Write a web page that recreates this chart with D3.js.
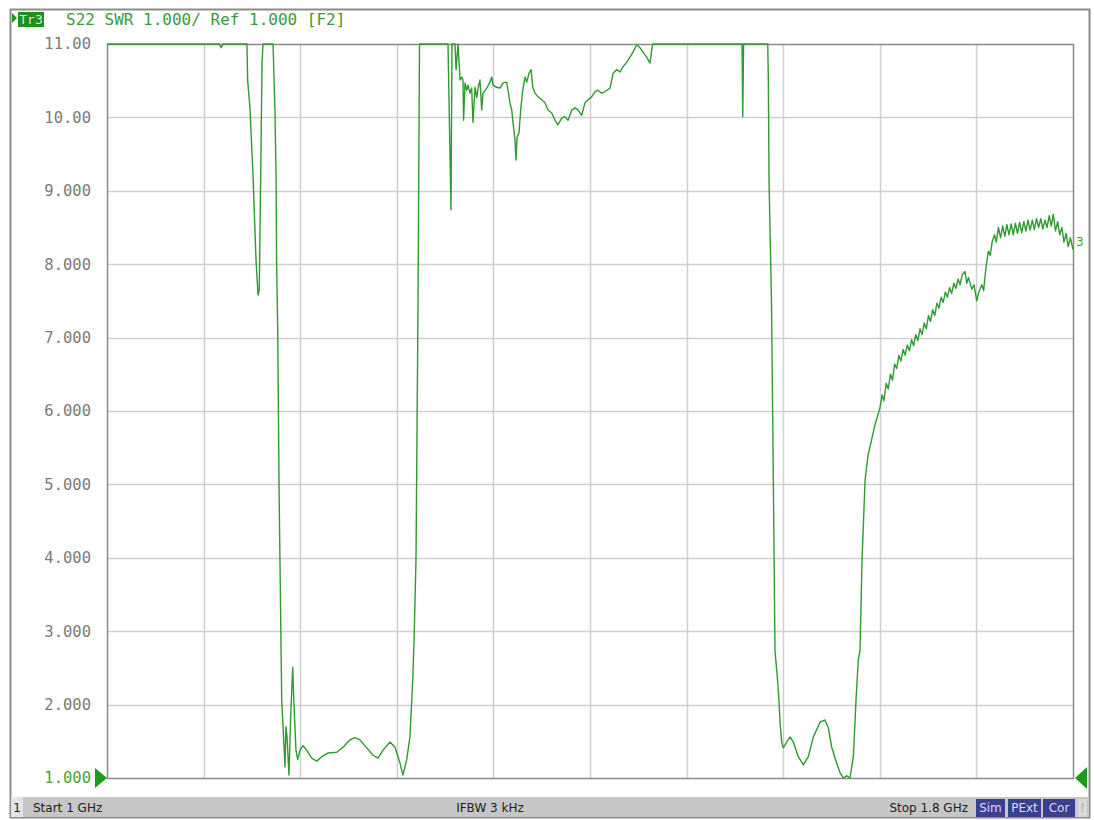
<!doctype html>
<html lang="en">
<head>
<meta charset="utf-8">
<title>S22 SWR</title>
<script src="https://d3js.org/d3.v7.min.js"></script>
<style>
  body { margin: 0; background: #fff; }
  svg { display: block; }
</style>
</head>
<body>
<div id="chart"></div>
<script>
// trace 3, S22 SWR, frequency in MHz
var freq = [
  1000, 1093, 1094.5, 1096, 1115.9, 1116.5, 1118.4, 1120.9, 1123.4, 1125.1, 1126.1, 1127.5, 1128.4, 1129.2,
  1137.5, 1139.1, 1140.0, 1140.5, 1141.4, 1142.5, 1144.7, 1145.8, 1147.4, 1148.2, 1149.1, 1150.7, 1152.1,
  1153.8, 1154.9, 1156.5, 1157.9, 1159.8, 1162.3, 1165.4, 1169.5, 1173.7, 1177.8, 1183.0, 1190.2, 1195.5,
  1201.2, 1205.4, 1209.5, 1215.1, 1220.3, 1224.4, 1228.6, 1234.4, 1238.5, 1242.7, 1245.1, 1248.2, 1250.9,
  1253.2, 1254.3, 1255.9, 1257.6, 1258.8,
  1281.6, 1282.4, 1284.9, 1285.7, 1288.2, 1289.1, 1290.7, 1292.4,
  1293.8, 1294.8, 1295.3, 1296.5, 1297.9, 1299.0, 1300.6, 1302.0, 1303.1, 1304.8, 1306.2, 1307.3, 1308.9,
  1310.3, 1311.4, 1314.5, 1317.2, 1318.6, 1319.7, 1322.7, 1325.5, 1328.0, 1331.0, 1332.1, 1333.8, 1335.2,
  1336.3, 1337.9, 1338.7, 1339.6, 1341.2, 1342.6, 1344.3, 1346.2, 1347.6, 1349.5, 1351.2, 1352.6, 1354.5,
  1357.0, 1360.0, 1362.7, 1365.2, 1368.3, 1371.0, 1373.5, 1376.6, 1379.3, 1381.8, 1384.9, 1387.6, 1390.1,
  1393.1, 1395.9, 1398.4, 1401.4, 1404.2, 1406.6, 1409.7, 1412.4, 1416.6, 1419.1, 1422.1, 1424.9, 1427.3,
  1430.4, 1433.1, 1435.6, 1438.7, 1441.4, 1443.9, 1446.9, 1449.7, 1451.1, 1451.9,
  1525.1, 1525.9, 1526.5, 1527.2, 1547.2, 1547.7, 1548.3, 1549.1, 1550.3, 1552.0, 1553.2, 1555.1, 1556.5,
  1557.4, 1558.8, 1560.1, 1562.9, 1565.7, 1568.4, 1572.5, 1576.7, 1580.8, 1585.0, 1590.5, 1594.6, 1597.4,
  1600.2, 1604.3, 1607.1, 1609.8, 1612.6, 1615.3, 1618.1, 1620.3, 1622.2, 1623.6, 1625.3, 1627.8, 1630.3,
  1636.0, 1640.2, 1642.0, 1643.5, 1645.3, 1647.0, 1648.8, 1650.5, 1652.3, 1654.0, 1655.8, 1657.5, 1659.3,
  1661.0, 1662.8, 1664.5, 1666.3, 1668.0, 1669.8, 1671.5, 1673.3, 1675.0, 1676.8, 1678.5, 1680.3, 1682.0,
  1683.8, 1685.5, 1687.3, 1689.0, 1690.8, 1692.5, 1694.3, 1696.0, 1697.8, 1699.5, 1701.3, 1703.0, 1704.8,
  1706.5, 1708.3, 1710.6, 1712.0, 1713.4, 1716.2, 1718.0, 1720.3, 1722.0, 1724.5, 1726.0, 1727.9, 1729.9,
  1731.5, 1733.0, 1735.0, 1736.5, 1738.2, 1740.0, 1741.8, 1743.5, 1745.2, 1747.0, 1748.8, 1750.5, 1752.3,
  1754.0, 1755.8, 1757.5, 1759.3, 1761.0, 1762.8, 1764.5, 1766.3, 1768.0, 1769.8, 1771.5, 1773.3, 1775.0,
  1776.8, 1778.5, 1780.3, 1782.0, 1783.7, 1785.5, 1787.3, 1789.0, 1790.8, 1792.5, 1794.3, 1796.0, 1797.8,
  1800.0
];
var swr = [
  11.5, 11.5, 10.95, 11.5, 11.5, 10.5, 10.13, 9.22, 8.06, 7.58, 7.65, 9.5, 10.74, 11.5,
  11.5, 10.1, 9.24, 7.96, 7.1, 4.92, 2.06, 1.70, 1.15, 1.70, 1.56, 1.04, 1.83,
  2.51, 1.97, 1.38, 1.25, 1.38, 1.44, 1.38, 1.27, 1.23, 1.29, 1.34, 1.35, 1.42,
  1.52, 1.55, 1.52, 1.41, 1.31, 1.27, 1.38, 1.49, 1.42, 1.20, 1.04, 1.25, 1.56,
  2.34, 2.88, 3.97, 7.51, 11.5,
  11.5, 11.5, 8.74, 11.5, 11.5, 10.65, 11.5, 10.51,
  10.55, 10.51, 9.96, 10.47, 10.37, 10.44, 10.33, 10.40, 9.93, 10.41, 10.27, 10.40, 10.51,
  10.10, 10.33, 10.40, 10.48, 10.55, 10.44, 10.41, 10.40, 10.47, 10.48, 10.37, 10.19, 10.10,
  9.92, 9.69, 9.42, 9.73, 9.79, 10.10, 10.37, 10.55, 10.48, 10.60, 10.65, 10.41, 10.33,
  10.28, 10.24, 10.20, 10.10, 10.06, 9.96, 9.90, 9.99, 10.01, 9.96, 10.10, 10.13, 10.10,
  10.03, 10.20, 10.24, 10.28, 10.35, 10.37, 10.33, 10.35, 10.40, 10.60, 10.65, 10.62, 10.69,
  10.75, 10.82, 10.89, 10.99, 10.95, 10.89, 10.82, 10.74, 10.92, 11.5,
  11.5, 11.5, 10.01, 11.5, 11.5, 10.51, 9.11, 8.47, 7.51, 4.79, 2.74, 2.38, 2.06,
  1.75, 1.48, 1.41, 1.49, 1.56, 1.49, 1.29, 1.18, 1.29, 1.56, 1.76, 1.79, 1.68,
  1.42, 1.20, 1.07, 1.00, 1.03, 1.00, 1.29, 2.06, 2.61, 2.74, 3.97, 5.06, 5.40,
  5.81, 6.05, 6.22, 6.14, 6.38, 6.30, 6.50, 6.42, 6.64, 6.58, 6.76, 6.68, 6.84,
  6.76, 6.90, 6.82, 6.97, 6.89, 7.04, 6.96, 7.12, 7.04, 7.20, 7.12, 7.30, 7.22,
  7.38, 7.30, 7.47, 7.40, 7.55, 7.48, 7.62, 7.55, 7.68, 7.60, 7.74, 7.67, 7.80,
  7.72, 7.86, 7.90, 7.74, 7.82, 7.66, 7.72, 7.50, 7.62, 7.72, 7.64, 7.95, 8.18,
  8.12, 8.30, 8.40, 8.30, 8.50, 8.36, 8.52, 8.38, 8.54, 8.40, 8.55, 8.40, 8.56,
  8.42, 8.57, 8.43, 8.58, 8.45, 8.60, 8.46, 8.60, 8.47, 8.62, 8.50, 8.62, 8.48,
  8.60, 8.50, 8.66, 8.52, 8.68, 8.45, 8.58, 8.40, 8.50, 8.30, 8.42, 8.24, 8.36,
  8.20
];

var yTicks = [11, 10, 9, 8, 7, 6, 5, 4, 3, 2, 1];
var yTickLabels = ["11.00", "10.00", "9.000", "8.000", "7.000", "6.000", "5.000", "4.000", "3.000", "2.000", "1.000"];
var xGrid = [1000, 1080, 1160, 1240, 1320, 1400, 1480, 1560, 1640, 1720, 1800];
var headerText = "S22 SWR 1.000/ Ref 1.000 [F2]";
var statusLeft = "Start 1 GHz";
var statusMid = "IFBW 3 kHz";
var statusRight = "Stop 1.8 GHz";
var statusFlags = ["Sim", "PExt", "Cor"];

var W = 1094, H = 820;
var plot = { left: 107, right: 1073, top: 44, bottom: 778 };

var x = d3.scaleLinear().domain([1000, 1800]).range([plot.left, plot.right]);
var y = d3.scaleLinear().domain([1, 11]).range([plot.bottom, plot.top]).clamp(true);

var svg = d3.select("#chart").append("svg")
  .attr("width", W).attr("height", H);

// outer window frame
svg.append("rect")
  .attr("x", 10.5).attr("y", 9.5).attr("width", 1079).attr("height", 808)
  .attr("fill", "#fff").attr("stroke", "#8c8c8c").attr("stroke-width", 2);

// grid
var grid = svg.append("g");
grid.selectAll("line.v").data(xGrid.slice(1, -1)).enter().append("line")
  .attr("x1", function (d) { return Math.round(x(d)) + 0.5; })
  .attr("x2", function (d) { return Math.round(x(d)) + 0.5; })
  .attr("y1", plot.top).attr("y2", plot.bottom)
  .attr("stroke", "#cfcfcf").attr("stroke-width", 1.5);
grid.selectAll("line.h").data(yTicks.slice(1, -1)).enter().append("line")
  .attr("y1", function (d) { return Math.round(y(d)) + 0.5; })
  .attr("y2", function (d) { return Math.round(y(d)) + 0.5; })
  .attr("x1", plot.left).attr("x2", plot.right)
  .attr("stroke", "#cfcfcf").attr("stroke-width", 1.5);

// plot frame
svg.append("rect")
  .attr("x", plot.left + 0.5).attr("y", plot.top + 0.5)
  .attr("width", plot.right - plot.left).attr("height", plot.bottom - plot.top)
  .attr("fill", "none").attr("stroke", "#8a8a8a").attr("stroke-width", 1.5);

// y labels
svg.append("g").selectAll("text").data(yTicks).enter().append("text")
  .attr("x", 91)
  .attr("y", function (d) { return y(d); })
  .attr("dy", "0.35em")
  .attr("text-anchor", "end")
  .attr("font-family", "DejaVu Sans Mono")
  .attr("font-size", 15.5)
  .attr("fill", function (d) { return d === 1 ? "#45a535" : "#7a7a7a"; })
  .text(function (d, i) { return yTickLabels[i]; });

// trace
var pts = freq.map(function (f, i) { return [f, swr[i]]; });
var line = d3.line()
  .x(function (d) { return x(d[0]); })
  .y(function (d) { return y(d[1]); });
svg.append("path")
  .datum(pts)
  .attr("d", line)
  .attr("fill", "none")
  .attr("stroke", "#2f9a2f")
  .attr("stroke-width", 1.4)
  .attr("stroke-linejoin", "round");

// trace number at end
svg.append("text")
  .attr("x", plot.right + 3).attr("y", y(swr[swr.length - 1]) - 4)
  .attr("font-family", "DejaVu Sans").attr("font-size", 12)
  .attr("fill", "#3aa03a").text("3");

// reference markers
svg.append("path")
  .attr("d", d3.line()([[95, y(1) - 10], [107, y(1)], [95, y(1) + 10]]) + "Z")
  .attr("fill", "#1d9a1d");
svg.append("path")
  .attr("d", d3.line()([[1087, y(1) - 11], [1075, y(1)], [1087, y(1) + 11]]) + "Z")
  .attr("fill", "#1d9a1d");

// header
svg.append("path")
  .attr("d", "M12,13 L17,18 L12,23 Z").attr("fill", "#1d9a1d");
svg.append("rect")
  .attr("x", 18).attr("y", 12).attr("width", 26).attr("height", 15)
  .attr("fill", "#1f8f1f");
svg.append("text")
  .attr("x", 31).attr("y", 24).attr("text-anchor", "middle")
  .attr("font-family", "DejaVu Sans Mono").attr("font-size", 13)
  .attr("fill", "#cfe8cf").text("Tr3");
svg.append("text")
  .attr("x", 66).attr("y", 25)
  .attr("font-family", "DejaVu Sans Mono").attr("font-size", 16)
  .attr("fill", "#3a9a3a").text(headerText);

// status bar
var sb = svg.append("g");
sb.append("rect").attr("x", 11).attr("y", 797).attr("width", 1078).attr("height", 20)
  .attr("fill", "#c6c6c6");
sb.append("rect").attr("x", 11).attr("y", 797).attr("width", 12).attr("height", 20)
  .attr("fill", "#e4e4e4");
sb.append("text").attr("x", 17).attr("y", 812).attr("text-anchor", "middle")
  .attr("font-family", "DejaVu Sans").attr("font-size", 12).attr("fill", "#222").text("1");
sb.append("text").attr("x", 33).attr("y", 812)
  .attr("font-family", "DejaVu Sans").attr("font-size", 12).attr("fill", "#222").text(statusLeft);
sb.append("text").attr("x", 490).attr("y", 812).attr("text-anchor", "middle")
  .attr("font-family", "DejaVu Sans").attr("font-size", 12).attr("fill", "#222").text(statusMid);
sb.append("text").attr("x", 968).attr("y", 812).attr("text-anchor", "end")
  .attr("font-family", "DejaVu Sans").attr("font-size", 12).attr("fill", "#222").text(statusRight);

var flagX = [976, 1008, 1043];
var flagW = [29, 33, 32];
statusFlags.forEach(function (f, i) {
  sb.append("rect").attr("x", flagX[i]).attr("y", 799).attr("width", flagW[i]).attr("height", 18)
    .attr("fill", "#3b3f8e");
  sb.append("text").attr("x", flagX[i] + flagW[i] / 2).attr("y", 812).attr("text-anchor", "middle")
    .attr("font-family", "DejaVu Sans").attr("font-size", 12).attr("fill", "#d8dcff").text(f);
});
sb.append("rect").attr("x", 1078).attr("y", 799).attr("width", 9).attr("height", 18)
  .attr("fill", "#d8d8d8");
sb.append("text").attr("x", 1082.5).attr("y", 812).attr("text-anchor", "middle")
  .attr("font-family", "DejaVu Sans").attr("font-size", 12).attr("fill", "#aaa").text("!");
</script>
</body>
</html>
